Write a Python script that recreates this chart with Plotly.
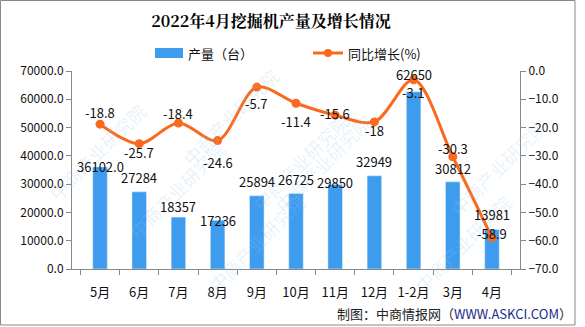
import plotly.graph_objects as go

months = ["5月", "6月", "7月", "8月", "9月", "10月", "11月", "12月", "1-2月", "3月", "4月"]
output = [36102, 27284, 18357, 17236, 25894, 26725, 29850, 32949, 62650, 30812, 13981]
growth = [-18.8, -25.7, -18.4, -24.6, -5.7, -11.4, -15.6, -18, -3.1, -30.3, -58.9]
bar_labels = ["36102.0", "27284", "18357", "17236", "25894", "26725", "29850", "32949", "62650", "30812", "13981"]
growth_labels = ["-18.8", "-25.7", "-18.4", "-24.6", "-5.7", "-11.4", "-15.6", "-18", "-3.1", "-30.3", "-58.9"]

# label offsets (pixels, style only)
bar_label_shift = [0, 14, 11, 0, 14, 14, 2, 14, 17, 13, 15]
growth_label_shift = [12, -9, 10, -22, -16, -18, 2, -9, -13, 8, 4]

FONT = "SimSun, 'Noto Sans CJK SC', sans-serif"
BAR_C = "#3e9cef"
LINE_C = "#fa6a1e"

W, H = 585, 327
pl, pr, pt, pb = 72, 520, 71, 269
pw, ph = pr - pl, pb - pt
def px(x): return (x - pl) / pw
def py(y): return (pb - y) / ph

fig = go.Figure()
fig.add_trace(go.Bar(
    x=months, y=output, name="产量（台）", marker_color=BAR_C, width=0.37, showlegend=False,
))
fig.add_trace(go.Scatter(
    x=months, y=growth, name="同比增长(%)", yaxis="y2", mode="lines+markers",
    line=dict(color=LINE_C, width=3, shape="spline", smoothing=0.9),
    marker=dict(size=9, color=LINE_C), showlegend=False, cliponaxis=False,
))

annotations = []
# watermarks
wm = [(40, 95), (120, 190), (300, 105), (380, 220), (555, 110), (200, 300), (520, 300), (230, 60)]
for (x, y) in wm:
    annotations.append(dict(text="中商产业研究院", x=px(x), y=py(y), xref="paper", yref="paper",
                            showarrow=False, textangle=-45,
                            font=dict(size=18, color="rgba(150,195,230,0.22)", family=FONT)))

for m, v, t, s in zip(months, output, bar_labels, bar_label_shift):
    annotations.append(dict(text=t, x=m, y=v, xref="x", yref="y", showarrow=False,
                            yanchor="middle", yshift=s,
                            font=dict(size=13, color="#111", family=FONT)))
for m, v, t, s in zip(months, growth, growth_labels, growth_label_shift):
    annotations.append(dict(text=t, x=m, y=v, xref="x", yref="y2", showarrow=False,
                            yanchor="middle", yshift=s,
                            font=dict(size=13, color="#111", family=FONT)))

# custom legend
annotations.append(dict(text="产量（台）", x=px(186), y=py(53), xref="paper", yref="paper",
                        showarrow=False, xanchor="left", yanchor="middle",
                        font=dict(size=13, color="#111", family=FONT)))
annotations.append(dict(text="同比增长(%)", x=px(346), y=py(53), xref="paper", yref="paper",
                        showarrow=False, xanchor="left", yanchor="middle",
                        font=dict(size=13, color="#111", family=FONT)))
annotations.append(dict(text="制图：中商情报网（<span style='color:#1a2a8a'>WWW.ASKCI.COM</span>）",
                        x=px(574), y=py(313), xref="paper", yref="paper",
                        showarrow=False, xanchor="right", yanchor="middle",
                        font=dict(size=13, color="#222", family=FONT)))

shapes = [
    dict(type="rect", xref="paper", yref="paper", x0=px(0.5), x1=px(575), y0=py(325), y1=py(0.5),
         line=dict(color="#888", width=1), fillcolor="rgba(0,0,0,0)", layer="below"),
    dict(type="rect", xref="paper", yref="paper", x0=px(155), x1=px(183), y0=py(58), y1=py(48),
         line=dict(width=0), fillcolor=BAR_C),
    dict(type="line", xref="paper", yref="paper", x0=px(313), x1=px(343), y0=py(53), y1=py(53),
         line=dict(color=LINE_C, width=3)),
    dict(type="circle", xref="paper", yref="paper", x0=px(324), x1=px(332), y0=py(57), y1=py(49),
         line=dict(width=0), fillcolor=LINE_C),
]

fig.update_layout(
    width=W, height=H,
    margin=dict(l=pl, r=W - pr, t=pt, b=H - pb),
    plot_bgcolor="white", paper_bgcolor="white",
    font=dict(family=FONT, size=12, color="#111"),
    title=dict(text="<b>2022年4月挖掘机产量及增长情况</b>", x=271 / 585, xref="container",
               y=1 - 21 / 327, yref="container", xanchor="center", yanchor="middle",
               font=dict(size=16, family="'Noto Serif CJK SC', SimSun, 'Noto Sans CJK SC', serif", color="#000")),
    showlegend=False,
    bargap=0.6,
    xaxis=dict(showline=True, linecolor="#888", ticks="outside", tickson="boundaries",
               ticklen=5, tickcolor="#888", showgrid=False, tickfont=dict(size=13),
               tickangle=0, ticklabelstandoff=11),
    yaxis=dict(range=[0, 70000], dtick=10000, tickformat=".1f", showline=True, linecolor="#888",
               ticks="outside", ticklen=5, tickcolor="#888", showgrid=False, zeroline=False,
               tickfont=dict(size=12)),
    yaxis2=dict(range=[-70, 0], dtick=10, tickformat=".1f", overlaying="y", side="right",
                showline=True, linecolor="#888", ticks="outside", ticklen=5, tickcolor="#888",
                showgrid=False, zeroline=False, tickfont=dict(size=12)),
    annotations=annotations,
    shapes=shapes,
)

fig.write_html("out.html")
